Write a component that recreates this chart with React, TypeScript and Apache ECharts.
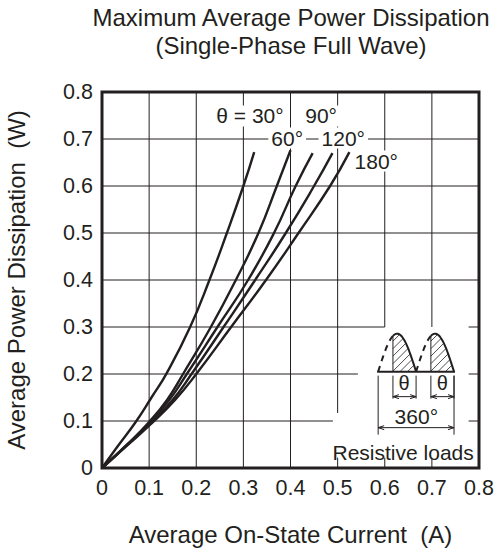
import React, { useEffect, useRef } from "react";
import * as echarts from "echarts";

const INK = "#231f20";
const FONT = "'Liberation Sans', Arial, sans-serif";

const titleLines = ["Maximum Average Power Dissipation", "(Single-Phase Full Wave)"];
const xName = "Average On-State Current  (A)";
const yName = "Average Power Dissipation  (W)";

const curve30 = [[0, 0], [0.031, 0.043], [0.073, 0.1], [0.105, 0.15], [0.138, 0.203], [0.187, 0.3], [0.228, 0.4], [0.265, 0.5], [0.3, 0.6], [0.323, 0.672]];
const curve60 = [[0, 0], [0.05, 0.047], [0.1, 0.098], [0.138, 0.145], [0.172, 0.2], [0.231, 0.3], [0.284, 0.4], [0.332, 0.5], [0.371, 0.6], [0.4, 0.676]];
const curve90 = [[0, 0], [0.05, 0.046], [0.1, 0.095], [0.143, 0.145], [0.18, 0.2], [0.245, 0.3], [0.31, 0.4], [0.365, 0.5], [0.411, 0.6], [0.447, 0.67]];
const curve120 = [[0, 0], [0.05, 0.046], [0.1, 0.092], [0.15, 0.145], [0.19, 0.2], [0.258, 0.3], [0.325, 0.4], [0.39, 0.5], [0.45, 0.6], [0.489, 0.67]];
const curve180 = [[0, 0], [0.05, 0.045], [0.1, 0.09], [0.155, 0.145], [0.2, 0.2], [0.274, 0.3], [0.348, 0.4], [0.417, 0.5], [0.484, 0.6], [0.525, 0.672]];
const curves = [curve30, curve60, curve90, curve120, curve180];

// grid rules, some cut short around the inset: [x1, y1, x2, y2]
const gridRules = [
  [0, 0.1, 0.49, 0.1], [0, 0.2, 0.543, 0.2], [0, 0.3, 0.6, 0.3],
  [0, 0.4, 0.8, 0.4], [0, 0.5, 0.8, 0.5], [0, 0.6, 0.8, 0.6], [0, 0.7, 0.8, 0.7],
  [0.1, 0, 0.1, 0.8], [0.2, 0, 0.2, 0.8], [0.3, 0, 0.3, 0.8], [0.4, 0, 0.4, 0.8],
  [0.5, 0.117, 0.5, 0.8], [0.6, 0.3, 0.6, 0.8], [0.7, 0.3, 0.7, 0.8],
  [0.5, 0, 0.5, 0.022], [0.6, 0, 0.6, 0.022], [0.7, 0, 0.7, 0.022],
  [0.778, 0.1, 0.8, 0.1], [0.778, 0.2, 0.8, 0.2], [0.778, 0.3, 0.8, 0.3],
];

const curveLabels: [number, number, string][] = [
  [0.314, 0.749, "θ = 30°"],
  [0.465, 0.749, "90°"],
  [0.393, 0.702, "60°"],
  [0.512, 0.702, "120°"],
  [0.582, 0.653, "180°"],
];

const insetTexts: [number, number, string, number][] = [
  [0.641, 0.181, "θ", 20],
  [0.722, 0.181, "θ", 20],
  [0.667, 0.11, "360°", 21],
  [0.639, 0.034, "Resistive loads", 21],
];

const line = (x1: number, y1: number, x2: number, y2: number, w = 1) => ({
  type: "line",
  shape: { x1, y1, x2, y2 },
  style: { stroke: INK, lineWidth: w, fill: "none" },
});

function renderInset(_p: any, api: any) {
  const [ox, oy] = api.coord([0.586, 0.205]); // wave baseline, left end
  const [ex] = api.coord([0.747, 0.205]);
  const w = (ex - ox) / 2;
  const h = 38;
  const kids: any[] = [];
  const arch = (u: number) => oy - h * Math.sin(Math.PI * u);
  for (let k = 0; k < 2; k++) {
    const x0 = ox + k * w;
    const split = 0.39;
    const dash: number[][] = [];
    const solid: number[][] = [];
    for (let i = 0; i <= 24; i++) {
      const u = (split * i) / 24;
      dash.push([x0 + u * w, arch(u)]);
      const v = split + ((1 - split) * i) / 24;
      solid.push([x0 + v * w, arch(v)]);
    }
    kids.push({ type: "polyline", shape: { points: dash }, style: { stroke: INK, lineWidth: 2, lineDash: [6, 5], fill: "none" } });
    kids.push({ type: "polyline", shape: { points: solid }, style: { stroke: INK, lineWidth: 2, fill: "none" } });
    const xs = x0 + split * w;
    const xe = x0 + w;
    kids.push(line(xs, oy, xs, arch(split), 1));
    // hatching, clipped to the area under the arch
    for (let c = xs - h; c < xe; c += 7.5) {
      let a: number[] | null = null;
      let b: number[] | null = null;
      for (let t = 0; t <= h; t += 0.5) {
        const x = c + t;
        const y = oy - t;
        const u = (x - x0) / w;
        if (x >= xs && x <= xe && y >= arch(u)) {
          if (!a) a = [x, y];
          b = [x, y];
        }
      }
      if (a && b) kids.push(line(a[0], a[1], b[0], b[1], 0.8));
    }
    // theta dimension
    const ay = oy + 25;
    kids.push(line(xs, oy + 4, xs, oy + 27, 1));
    kids.push(line(xe, oy + 4, xe, oy + 27, 1));
    kids.push(line(xs, ay, xe, ay, 1));
    kids.push({ type: "polyline", shape: { points: [[xs + 6, ay - 2], [xs, ay], [xs + 6, ay + 2]] }, style: { stroke: INK, lineWidth: 1, fill: "none" } });
    kids.push({ type: "polyline", shape: { points: [[xe - 6, ay - 2], [xe, ay], [xe - 6, ay + 2]] }, style: { stroke: INK, lineWidth: 1, fill: "none" } });
  }
  kids.push(line(ox - 1, oy, ex + 1, oy, 2));
  // 360 degree dimension
  const dy = oy + 56;
  kids.push(line(ox, oy + 4, ox, oy + 63, 1));
  kids.push(line(ex, oy + 4, ex, oy + 63, 1));
  kids.push(line(ox, dy, ex, dy, 1));
  kids.push({ type: "polyline", shape: { points: [[ox + 6, dy - 2], [ox, dy], [ox + 6, dy + 2]] }, style: { stroke: INK, lineWidth: 1, fill: "none" } });
  kids.push({ type: "polyline", shape: { points: [[ex - 6, dy - 2], [ex, dy], [ex - 6, dy + 2]] }, style: { stroke: INK, lineWidth: 1, fill: "none" } });
  return { type: "group", children: kids };
}

export default function App() {
  const ref = useRef<HTMLDivElement>(null);
  useEffect(() => {
    const chart = echarts.init(ref.current!, undefined, { renderer: "svg" });
    const textItem = (x: number, y: number, text: string, size: number, bg: boolean) => ({
      type: "text",
      x,
      y,
      style: {
        text,
        fontSize: size,
        fontFamily: FONT,
        fill: INK,
        align: "center",
        verticalAlign: "middle",
        ...(bg ? { backgroundColor: "#fff", padding: [0, 3, 0, 3] } : {}),
      },
    });
    chart.setOption({
      animation: false,
      backgroundColor: "#fff",
      textStyle: { fontFamily: FONT },
      title: {
        text: titleLines.join("\n"),
        left: 291,
        top: 3,
        padding: 0,
        textAlign: "center",
        textStyle: { fontFamily: FONT, fontSize: 24, fontWeight: "normal", color: INK, lineHeight: 28 },
      },
      grid: { left: 102, top: 92, width: 377, height: 376, show: true, borderColor: INK, borderWidth: 3, backgroundColor: "transparent", z: 10, outerBoundsMode: "none", containLabel: false },
      xAxis: {
        type: "value",
        min: 0,
        max: 0.8,
        interval: 0.1,
        name: xName,
        nameLocation: "middle",
        nameGap: 54,
        nameTextStyle: { fontFamily: FONT, fontSize: 24, color: INK },
        axisLine: { show: false },
        axisTick: { show: false },
        splitLine: { show: false },
        axisLabel: { fontFamily: FONT, fontSize: 21.5, color: INK, margin: 9, hideOverlap: false, formatter: (v: number) => (v === 0 ? "0" : v.toFixed(1)) },
      },
      yAxis: {
        type: "value",
        min: 0,
        max: 0.8,
        interval: 0.1,
        name: yName,
        nameLocation: "middle",
        nameGap: 74,
        nameTextStyle: { fontFamily: FONT, fontSize: 24, color: INK },
        axisLine: { show: false },
        axisTick: { show: false },
        splitLine: { show: false },
        axisLabel: { fontFamily: FONT, fontSize: 21.5, color: INK, margin: 9, hideOverlap: false, formatter: (v: number) => (v === 0 ? "0" : v.toFixed(1)) },
      },
      series: [
        {
          type: "custom",
          coordinateSystem: "cartesian2d",
          data: gridRules,
          encode: { x: [0, 2], y: [1, 3] },
          z: 1,
          silent: true,
          renderItem: (_p: any, api: any) => {
            const a = api.coord([api.value(0), api.value(1)]);
            const b = api.coord([api.value(2), api.value(3)]);
            return line(a[0], a[1], b[0], b[1], 1);
          },
        },
        {
          type: "custom",
          coordinateSystem: "cartesian2d",
          data: curveLabels.map((d) => [d[0], d[1]]),
          z: 2,
          silent: true,
          renderItem: (p: any, api: any) => {
            const c = api.coord([api.value(0), api.value(1)]);
            return textItem(c[0], c[1], curveLabels[p.dataIndex][2], 21, true);
          },
        },
        {
          type: "custom",
          coordinateSystem: "cartesian2d",
          data: insetTexts.map((d) => [d[0], d[1]]),
          z: 3,
          silent: true,
          renderItem: (p: any, api: any) => {
            const c = api.coord([api.value(0), api.value(1)]);
            return textItem(c[0], c[1], insetTexts[p.dataIndex][2], insetTexts[p.dataIndex][3], false);
          },
        },
        {
          type: "custom",
          coordinateSystem: "cartesian2d",
          data: [[0.586, 0.205]],
          z: 3,
          silent: true,
          renderItem: renderInset,
        },
        ...curves.map((data) => ({
          type: "line",
          data,
          smooth: 0.5,
          showSymbol: false,
          symbol: "none",
          z: 4,
          silent: true,
          lineStyle: { color: INK, width: 2.4 },
        })),
      ],
    });
    return () => chart.dispose();
  }, []);
  return <div ref={ref} style={{ position: "absolute", left: 0, top: 0, width: 495, height: 550 }} />;
}
